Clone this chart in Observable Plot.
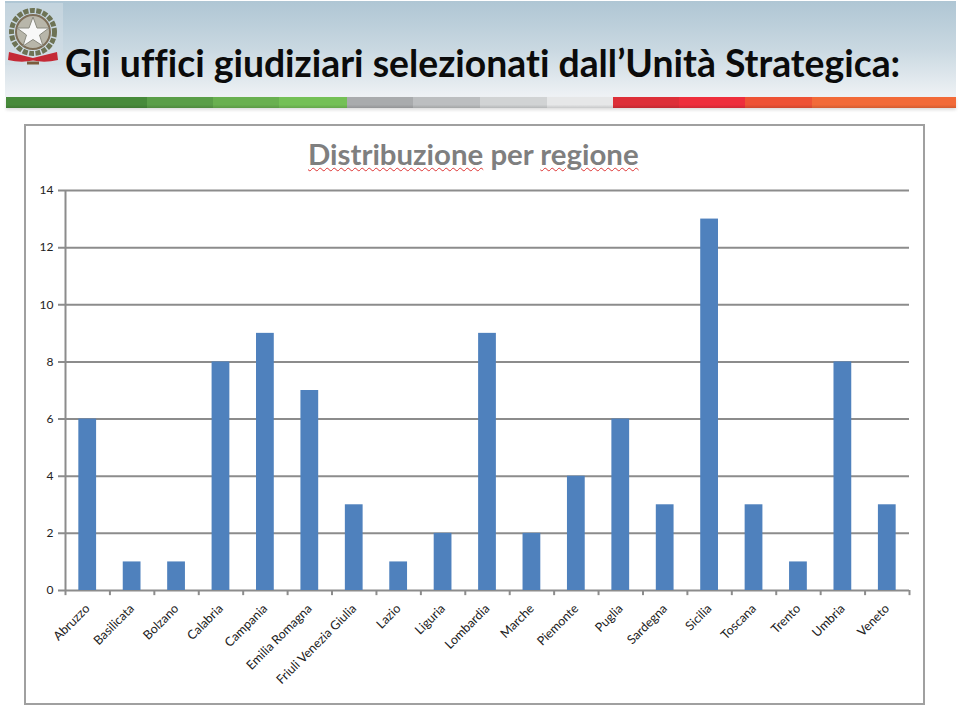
<!DOCTYPE html>
<html>
<head>
<meta charset="utf-8">
<script src="https://cdn.jsdelivr.net/npm/d3@7"></script>
<script src="https://cdn.jsdelivr.net/npm/@observablehq/plot@0.6"></script>
<style>
html,body{margin:0;padding:0;background:#fff;width:960px;height:706px;overflow:hidden}
#page{position:relative;width:960px;height:706px;font-family:Lato,sans-serif;font-variant-ligatures:none}
#band{position:absolute;left:5px;top:1px;width:951px;height:96px;background:linear-gradient(#afc6d4,#c9d8e1 50%,#eff2f5)}
#stripe{position:absolute;left:6px;top:97px;width:950px;height:11px;display:flex;box-shadow:0 2px 3px #ddd}
#stripe div{height:100%}
#title{position:absolute;left:65px;top:41px;font-weight:700;font-size:37.35px;line-height:44px;color:#0b0b0b;white-space:nowrap}
#frame{position:absolute;left:24px;top:124px;width:897px;height:577px;border:2px solid #a0a0a0}
#sub{position:absolute;left:308px;top:136px;font-weight:700;font-size:29.4px;line-height:36px;color:#7f7f7f;white-space:nowrap}
#sub span{text-decoration:underline wavy #d33 1px;text-underline-offset:2px}
#chart{position:absolute;left:0;top:0}
#emblem{position:absolute;left:5px;top:3px}
</style>
</head>
<body>
<div id="page">
  <div id="band"></div>
  <div id="stripe"></div>
  <svg id="emblem" width="58" height="64" viewBox="0 0 58 64">
    <rect x="0" y="0" width="58" height="62" fill="#d3dfe5" opacity="0.55"/>
    <circle cx="28" cy="29" r="21.5" fill="none" stroke="#6d7355" stroke-width="5" stroke-dasharray="5 1.5"/>
    <circle cx="28" cy="29" r="17" fill="#b8b6aa" stroke="#7d6e58" stroke-width="2"/>
    <polygon points="28,14 32,25 44,25 34.5,32 38,43 28,36.5 18,43 21.5,32 12,25 24,25" fill="#f8f8f8" stroke="#8a8a80" stroke-width="1"/>
    <path d="M4 49 Q16 52 28 55 Q40 52 52 49 L53 57 Q40 60 28 57.5 Q16 60 3 57Z" fill="#c42a36"/>
    <path d="M22 60 L34 60" stroke="#7a5c3c" stroke-width="3"/>
  </svg>
  <div id="title">Gli uffici giudiziari selezionati dall’Unità Strategica:</div>
  <div id="frame"></div>
  <div id="chart"></div>
  <div id="sub"><span>Distribuzione</span> per <span>regione</span></div>
</div>
<script>
const regions = ["Abruzzo","Basilicata","Bolzano","Calabria","Campania","Emilia Romagna","Friuli Venezia Giulia","Lazio","Liguria","Lombardia","Marche","Piemonte","Puglia","Sardegna","Sicilia","Toscana","Trento","Umbria","Veneto"];
const counts = [6,1,1,8,9,7,3,1,2,9,2,4,6,3,13,3,1,8,3];
const yTicks = [0,2,4,6,8,10,12,14];
const stripeColors = ["#478a3a","#5a9e48","#69b050","#74c056","#a9abad","#bcbec0","#d1d3d4","#e6e7e8","#dd2f38","#ee2e3c","#ee5235","#f26a38"];
const stripeWidths = [141,66,66,68,66,67,67,66,66,66,67,144];

stripeColors.forEach((c,i)=>{
  const d=document.createElement("div");
  d.style.background=`linear-gradient(${c},${c} 70%,${d3.color(c).darker(0.4)})`;
  d.style.width=stripeWidths[i]+"px";
  document.getElementById("stripe").appendChild(d);
});

const marginLeft=65, marginRight=51;
const step=(960-marginLeft-marginRight)/regions.length;
const tickEdges=[...regions.map((r,i)=>({r,dx:-step/2})),{r:regions[regions.length-1],dx:step/2}];

const chart=Plot.plot({
  width:960,height:706,
  marginLeft,marginRight,marginTop:190,marginBottom:116,
  style:{background:"transparent",fontFamily:"Lato,sans-serif",overflow:"visible"},
  x:{type:"band",domain:regions,paddingInner:0.6,paddingOuter:0.3,align:0.5,round:false,label:null},
  y:{domain:[0,14],label:null},
  marks:[
    Plot.ruleY(yTicks,{stroke:"#8c8c8c",strokeWidth:2,insetLeft:-7}),
    Plot.barY(regions,{x:d=>d,y:(d,i)=>counts[i],fill:"#4f81bd"}),
    ...tickEdges.map(t=>Plot.ruleX([t.r],{y1:0,y2:-0.18,dx:t.dx,stroke:"#8c8c8c",strokeWidth:2})),
    Plot.ruleX([regions[0]],{y1:0,y2:14,dx:-step/2,stroke:"#8c8c8c",strokeWidth:2}),
    Plot.axisY({ticks:yTicks,tickSize:0,tickPadding:12,fontSize:12,color:"#222",tickFormat:d=>d,label:null}),
    Plot.axisX({tickSize:0,tickRotate:-45,tickPadding:16,fontSize:12.5,color:"#222",label:null,lineWidth:100})
  ]
});
document.getElementById("chart").appendChild(chart);
</script>
</body>
</html>
